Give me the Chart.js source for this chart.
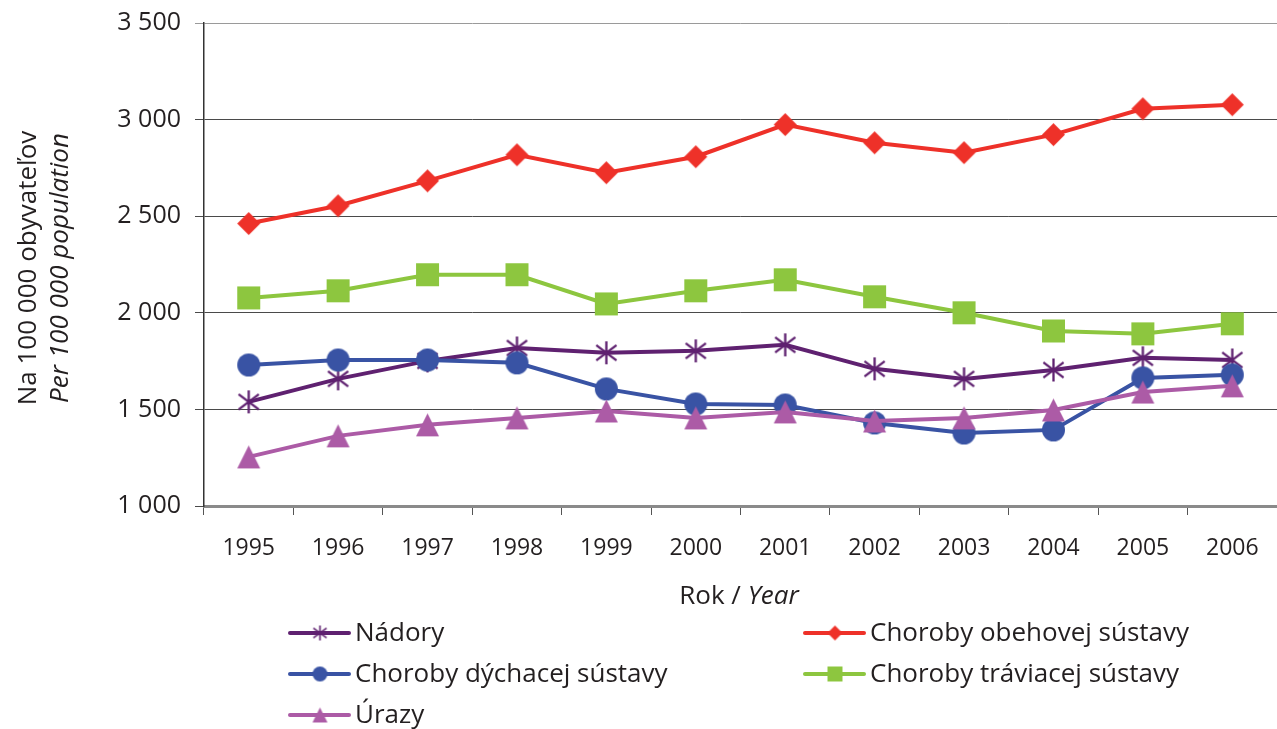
<!DOCTYPE html>
<html lang="sk">
<head>
  <meta charset="UTF-8" />
  <title>Úmrtnosť podľa príčin smrti 1995–2006</title>
  <script src="https://cdn.jsdelivr.net/npm/chart.js"></script>
  <style>
    html, body { margin: 0; padding: 0; background: #fff; overflow: hidden; }
    #wrap { width: 1277px; height: 729px; overflow: hidden; }
  </style>
</head>
<body>
  <div id="wrap"><canvas id="chart" width="1277" height="729"></canvas></div>
  <script>
    const years = ['1995', '1996', '1997', '1998', '1999', '2000', '2001', '2002', '2003', '2004', '2005', '2006'];

    // na 100 000 obyvateľov
    const nadory = [1539, 1658, 1751, 1818, 1793, 1803, 1834, 1710, 1658, 1704, 1767, 1756];
    const obehova = [2462, 2554, 2683, 2818, 2725, 2808, 2974, 2880, 2829, 2922, 3056, 3077];
    const dychacia = [1730, 1756, 1756, 1741, 1606, 1528, 1523, 1430, 1378, 1394, 1663, 1679];
    const traviaca = [2077, 2114, 2197, 2197, 2046, 2114, 2171, 2083, 2000, 1906, 1891, 1943];
    const urazy = [1254, 1363, 1420, 1456, 1492, 1456, 1487, 1440, 1456, 1497, 1590, 1622];

    const seriesNames = ['Nádory', 'Choroby obehovej sústavy', 'Choroby dýchacej sústavy', 'Choroby tráviacej sústavy', 'Úrazy'];
    const yTicks = [1000, 1500, 2000, 2500, 3000, 3500];
    const yTitle = ['Na 100 000 obyvateľov', 'Per 100 000 population'];
    const xTitle = ['Rok / ', 'Year'];

    const FONT = '"Open Sans", sans-serif';
    const TEXT = '#231f20';
    const W = 1277, H = 729;

    // markers drawn on small canvases, used as pointStyle
    function marker(shape, color, size) {
      const pad = 3;
      const s = size + pad * 2;
      const c = document.createElement('canvas');
      c.width = s; c.height = s;
      const g = c.getContext('2d');
      const m = s / 2, r = size / 2;
      g.fillStyle = color;
      g.strokeStyle = color;
      g.beginPath();
      if (shape === 'diamond') {
        g.moveTo(m, m - r); g.lineTo(m + r, m); g.lineTo(m, m + r); g.lineTo(m - r, m);
        g.closePath(); g.fill();
      } else if (shape === 'circle') {
        g.arc(m, m, r, 0, Math.PI * 2); g.fill();
      } else if (shape === 'square') {
        g.fillRect(m - r, m - r, size, size);
      } else if (shape === 'triangle') {
        g.moveTo(m, m - r); g.lineTo(m + r, m + r); g.lineTo(m - r, m + r);
        g.closePath(); g.fill();
      } else {
        g.lineWidth = Math.max(1.6, size / 10);
        const d = r * 0.88;
        g.moveTo(m, m - r); g.lineTo(m, m + r);
        g.moveTo(m - d, m - d * 0.75); g.lineTo(m + d, m + d * 0.75);
        g.moveTo(m + d, m - d * 0.75); g.lineTo(m - d, m + d * 0.75);
        g.stroke();
      }
      return c;
    }

    const colors = ['#5f2170', '#ee3129', '#3953a4', '#8dc63f', '#ac5ba6'];
    const shapes = ['asterisk', 'diamond', 'circle', 'square', 'triangle'];
    const values = [nadory, obehova, dychacia, traviaca, urazy];
    const drawOrder = [2, 4, 1, 3, 0];

    const datasets = values.map((v, i) => ({
      label: seriesNames[i],
      data: v,
      borderColor: colors[i],
      backgroundColor: colors[i],
      borderWidth: 4,
      pointStyle: marker(shapes[i], colors[i], 23),
      legendIcon: marker(shapes[i], colors[i], 15),
      pointRadius: 11,
      tension: 0,
      order: drawOrder[i]
    }));

    const decor = {
      id: 'decor',
      afterDraw(chart) {
        const { ctx } = chart;
        ctx.save();
        ctx.fillStyle = TEXT;
        ctx.textBaseline = 'middle';

        // y axis title, two lines
        ctx.save();
        ctx.translate(29, 268);
        ctx.rotate(-Math.PI / 2);
        ctx.textAlign = 'center';
        ctx.font = '26px ' + FONT;
        ctx.fillText(yTitle[0], 0, 0);
        ctx.font = 'italic 26px ' + FONT;
        ctx.fillText(yTitle[1], 0, 32);
        ctx.restore();

        // x axis title
        ctx.textAlign = 'left';
        ctx.font = '26px ' + FONT;
        const w1 = ctx.measureText(xTitle[0]).width;
        ctx.font = 'italic 26px ' + FONT;
        const w2 = ctx.measureText(xTitle[1]).width;
        const x0 = 739 - (w1 + w2) / 2;
        ctx.font = '26px ' + FONT;
        ctx.fillText(xTitle[0], x0, 597);
        ctx.font = 'italic 26px ' + FONT;
        ctx.fillText(xTitle[1], x0 + w1, 597);

        // legend, two columns
        ctx.font = '26px ' + FONT;
        chart.data.datasets.forEach((ds, i) => {
          const col = i % 2, row = Math.floor(i / 2);
          const lx = col === 0 ? 290 : 805;
          const ly = 633 + row * 41;
          ctx.strokeStyle = ds.borderColor;
          ctx.lineWidth = 4;
          ctx.lineCap = 'round';
          ctx.beginPath();
          ctx.moveTo(lx, ly); ctx.lineTo(lx + 59, ly);
          ctx.stroke();
          const ic = ds.legendIcon;
          ctx.drawImage(ic, lx + 30 - ic.width / 2, ly - ic.height / 2);
          ctx.fillStyle = TEXT;
          ctx.fillText(ds.label, lx + 65, ly + 1);
        });
        ctx.restore();
      }
    };

    const fmt = v => String(v).replace(/\B(?=(\d{3})+(?!\d))/g, ' ');

    const chart = new Chart(document.getElementById('chart'), {
      type: 'line',
      data: { labels: years, datasets: datasets },
      options: {
        responsive: false,
        maintainAspectRatio: false,
        animation: false,
        layout: { padding: { top: 23, right: 0, bottom: 0, left: 0 } },
        plugins: {
          legend: { display: false },
          tooltip: { enabled: false }
        },
        scales: {
          x: {
            offset: true,
            afterFit: s => { s.height = 223; },
            grid: {
              offset: true,
              drawOnChartArea: false,
              drawTicks: true,
              tickLength: 9,
              color: '#555'
            },
            border: { color: '#8a8a8a', width: 3 },
            ticks: {
              color: TEXT,
              padding: 20,
              maxRotation: 0,
              font: { family: FONT, size: 23 }
            }
          },
          y: {
            min: 1000,
            max: 3500,
            afterFit: s => { s.width = 204; s.paddingTop = 0; s.paddingBottom = 0; },
            afterBuildTicks: s => { s.ticks = yTicks.map(v => ({ value: v })); },
            grid: {
              color: c => (c.tick && c.tick.value === 3500 ? '#9a9a9a' : '#4a4a4a'),
              lineWidth: 1,
              tickLength: 9
            },
            border: { color: '#333', width: 1.5 },
            ticks: {
              color: TEXT,
              padding: 14,
              font: { family: FONT, size: 25 },
              callback: v => fmt(v)
            }
          }
        }
      },
      plugins: [decor]
    });

    // the plot in the original runs to the right edge of the picture;
    // widen the canvas by whatever gap Chart.js keeps there (clipped by #wrap)
    const gap = W - chart.chartArea.right;
    if (gap > 0.5) chart.resize(W + gap, H);
  </script>
</body>
</html>
